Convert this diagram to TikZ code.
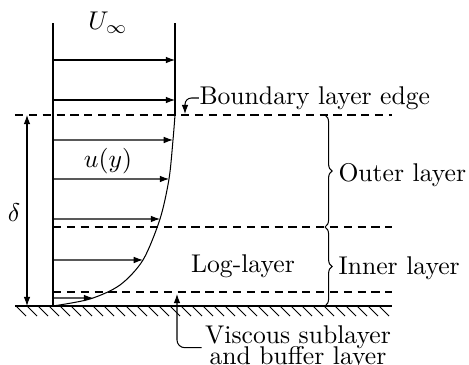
\documentclass[tikz,border=0pt]{standalone}
\usetikzlibrary{arrows.meta,decorations.pathreplacing,intersections}
\begin{document}
\begin{tikzpicture}[x=0.39pt,y=-0.39pt,
  >={Latex[length=3.6pt,width=2.6pt]},
  dashline/.style={dash pattern=on 3.2pt off 2.2pt},
  lbl/.style={inner sep=0pt},
  bracestyle/.style={decorate,decoration={brace,amplitude=2.8pt}}]
\useasboundingbox (0,0) rectangle (469,365);
% wall and profile frame
\coordinate (topL) at (53,23);
\coordinate (wallL) at (53,306);
\coordinate (topR) at (175,23);
\coordinate (edgeR) at (175,115);
\draw (topL) -- (wallL);
\draw (topR) -- (edgeR);
\draw[name path=prof] plot[smooth] coordinates {(175,115) (173,140) (169,179) (160,219) (143,260) (120,285) (90,299) (53,306)};
% wall
\coordinate (wA) at (15,306);
\coordinate (wB) at (392,306);
\draw[line width=0.5pt] (wA) -- (wB);
\foreach \i in {0,...,33} \draw ({16+11*\i},306) -- ++(10,10);
% dashed lines
\coordinate (d1a) at (15,115); \coordinate (d1b) at (392,115);
\coordinate (d2a) at (53,227); \coordinate (d2b) at (392,227);
\coordinate (d3a) at (53,292); \coordinate (d3b) at (392,292);
\draw[dashline] (d1a) -- (d1b);
\draw[dashline] (d2a) -- (d2b);
\draw[dashline] (d3a) -- (d3b);
% velocity arrows
\foreach \y in {60,100} \draw[->] (53,\y) -- (175,\y);
\foreach \y in {140,179,219,260,298} {
  \path[name path=h\y] (53,\y) -- (200,\y);
  \draw[->,name intersections={of=prof and h\y}] (53,\y) -- (intersection-1);
}
% delta
\coordinate (dTop) at (27,115);
\coordinate (dBot) at (27,306);
\draw[<->] (dTop) -- (dBot);
\node[lbl] (delta) at (14,213) {$\delta$};
% labels
\node[lbl] (Uinf) at (108,23) {$U_\infty$};
\node[lbl] (uy) at (108,161) {$u(y)$};
\node[lbl,anchor=west] (ble) at (199,98) {Boundary layer edge};
\draw[->,rounded corners=2.5pt] (ble.west) -| (185,114);
\node[lbl] (log) at (243,266) {Log-layer};
% braces
\coordinate (b1t) at (325,115); \coordinate (b1b) at (325,227);
\coordinate (b2t) at (325,227); \coordinate (b2b) at (325,306);
\draw[bracestyle] (b1t) -- (b1b);
\draw[bracestyle] (b2t) -- (b2b);
\node[lbl,anchor=west] (outer) at (338,175) {Outer layer};
\node[lbl,anchor=west] (inner) at (338,268) {Inner layer};
% viscous
\node[inner xsep=1.2pt,inner ysep=0pt,anchor=north,align=center] (visc) at (298,325) {Viscous sublayer\\[-3.7pt]and buffer layer};
\draw[->,rounded corners=3pt] (visc.west) -| (177,294);
\end{tikzpicture}
\end{document}
